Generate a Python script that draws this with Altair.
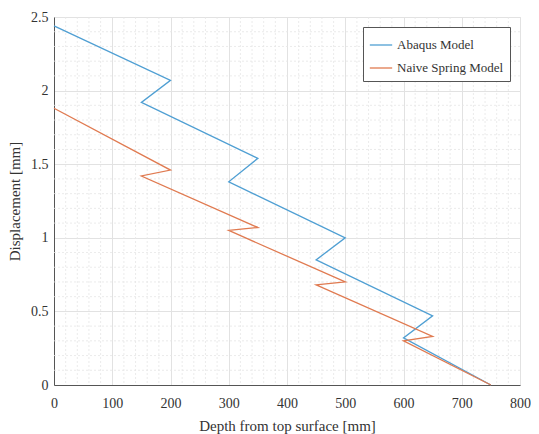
import altair as alt
import pandas as pd

# Data
depth_abaqus = [0, 200, 150, 350, 300, 500, 450, 650, 600, 750]
disp_abaqus = [2.44, 2.07, 1.92, 1.54, 1.38, 1.00, 0.85, 0.47, 0.32, 0.0]
depth_spring = [0, 200, 150, 350, 300, 500, 450, 650, 600, 750]
disp_spring = [1.88, 1.46, 1.42, 1.07, 1.05, 0.70, 0.68, 0.33, 0.30, 0.0]
series_names = ["Abaqus Model", "Naive Spring Model"]
series_colors = ["#4f9fd3", "#e07a50"]

x_ticks = [0, 100, 200, 300, 400, 500, 600, 700, 800]
y_ticks = [0, 0.5, 1, 1.5, 2, 2.5]
x_minor = [v for v in range(0, 801, 20) if v % 100 != 0]
y_minor = [round(v * 0.1, 1) for v in range(0, 26) if v % 5 != 0]

rows = []
for i, (d, v) in enumerate(zip(depth_abaqus, disp_abaqus)):
    rows.append({"series": series_names[0], "order": i, "depth": d, "disp": v})
for i, (d, v) in enumerate(zip(depth_spring, disp_spring)):
    rows.append({"series": series_names[1], "order": i, "depth": d, "disp": v})
df = pd.DataFrame(rows)

FONT = "Liberation Serif"
xscale = alt.Scale(domain=[0, 800], nice=False)
yscale = alt.Scale(domain=[0, 2.5], nice=False)

xaxis = alt.Axis(values=x_ticks, title="Depth from top surface [mm]",
                 format="d", labelFlush=False, labelPadding=11, titlePadding=8)
yaxis = alt.Axis(values=y_ticks, title="Displacement [mm]",
                 format="~g", labelFlush=False, labelPadding=6, titlePadding=8)

minor_x = alt.Chart(pd.DataFrame({"v": x_minor})).mark_rule(
    color="#e6e6e6", strokeDash=[2, 2], strokeWidth=0.8
).encode(x=alt.X("v:Q", scale=xscale, axis=xaxis))
minor_y = alt.Chart(pd.DataFrame({"v": y_minor})).mark_rule(
    color="#e6e6e6", strokeDash=[2, 2], strokeWidth=0.8
).encode(y=alt.Y("v:Q", scale=yscale, axis=yaxis))

lines = alt.Chart(df).mark_line(strokeWidth=1.3).encode(
    x=alt.X("depth:Q", scale=xscale, axis=xaxis),
    y=alt.Y("disp:Q", scale=yscale, axis=yaxis),
    color=alt.Color("series:N",
                    scale=alt.Scale(domain=series_names, range=series_colors),
                    legend=alt.Legend(title=None, orient="top-right", offset=10,
                                      strokeColor="#555", fillColor="white",
                                      padding=6, symbolType="stroke",
                                      symbolSize=500, symbolStrokeWidth=1.3,
                                      labelFont=FONT, labelFontSize=13,
                                      labelColor="#333", rowPadding=4)),
    order="order:Q",
)

chart = alt.layer(minor_x, minor_y, lines).properties(
    width=466, height=368,
    autosize=alt.AutoSizeParams(type="none"),
    padding={"left": 46, "top": 9, "right": 11, "bottom": 49},
).configure_view(stroke=None).configure(background="white").configure_axis(
    grid=True, gridColor="#e2e2e2", ticks=False,
    domainColor="#555", labelColor="#333", titleColor="#333",
    labelFont=FONT, titleFont=FONT, labelFontSize=14, titleFontSize=15,
    titleFontWeight="normal",
)

chart.save("out.html", embed_options={"renderer": "svg", "actions": False})
